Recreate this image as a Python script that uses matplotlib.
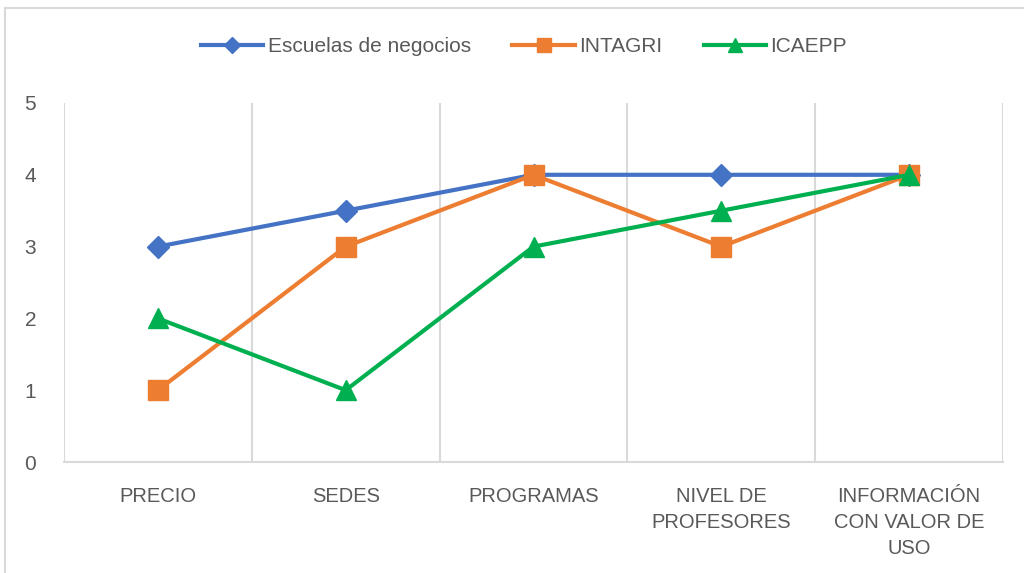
import matplotlib.pyplot as plt
from matplotlib.patches import Rectangle

plt.rcParams['font.family'] = ['Liberation Sans Narrow', 'Liberation Sans', 'DejaVu Sans']

categorias = ['PRECIO', 'SEDES', 'PROGRAMAS', 'NIVEL DE\nPROFESORES',
              'INFORMACIÓN\nCON VALOR DE\nUSO']
escuelas = [3, 3.5, 4, 4, 4]
intagri = [1, 3, 4, 3, 4]
icaepp = [2, 1, 3, 3.5, 4]

fig = plt.figure(figsize=(10.24, 5.73), dpi=100)
ax = fig.add_axes([64 / 1024, 1 - 462 / 573, (1003 - 64) / 1024, (462 - 103) / 573])

x = range(len(categorias))
ax.plot(x, escuelas, color='#4472C4', lw=3, marker='D', ms=11, label='Escuelas de negocios')
ax.plot(x, intagri, color='#ED7D31', lw=3, marker='s', ms=14, label='INTAGRI')
ax.plot(x, icaepp, color='#00B050', lw=3, marker='^', ms=14, label='ICAEPP')

ax.set_xlim(-0.5, len(categorias) - 0.5)
ax.set_ylim(0, 5)
ax.set_yticks(range(6))
ax.set_xticks(list(x))
ax.set_xticklabels(categorias, linespacing=1.45)
ax.set_xticks([i - 0.5 for i in range(len(categorias) + 1)], minor=True)
ax.grid(True, which='minor', axis='x', color='#D9D9D9', lw=1.5)
ax.tick_params(which='both', length=0)
ax.tick_params(axis='x', pad=18, labelsize=14.5, labelcolor='#595959')
ax.tick_params(axis='y', pad=20, labelsize=15, labelcolor='#595959')
for s in ['top', 'right', 'left']:
    ax.spines[s].set_visible(False)
ax.spines['bottom'].set_color('#D9D9D9')
ax.spines['bottom'].set_linewidth(1.5)

for lbl in ax.get_xticklabels():
    lbl.set_verticalalignment('top')

ax.legend(loc='center', bbox_to_anchor=(524 / 1024, 1 - 47 / 573), bbox_transform=fig.transFigure,
          ncol=3, frameon=False, fontsize=15, labelcolor='#595959',
          handlelength=3, handletextpad=0.2, columnspacing=2.0, markerscale=0.7)

fig.patches.append(Rectangle((5 / 1024, -0.1), 1.2, 1 - 8 / 573 + 0.1, transform=fig.transFigure,
                             fill=False, edgecolor='#D9D9D9', lw=1.5))

fig.savefig('out.png', dpi=100)
